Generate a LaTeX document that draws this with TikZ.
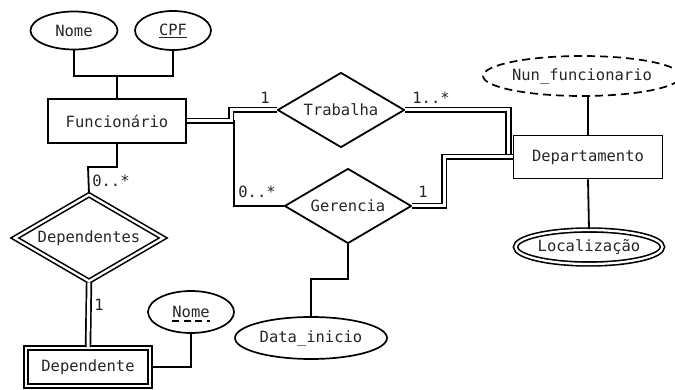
\documentclass[tikz,border=0pt]{standalone}
\usepackage{fontspec}
\setmonofont{DejaVu Sans Mono}
\usetikzlibrary{shapes.geometric}
\begin{document}
\begin{tikzpicture}[x=1pt,y=-1pt,
  every node/.style={font=\ttfamily\fontsize{15.5}{18}\selectfont, inner sep=0pt, text=black!85},
  ent/.style={draw, rectangle, line width=1.8pt},
  attr/.style={draw, ellipse, line width=1.7pt},
  rel/.style={draw, diamond, line width=1.8pt, aspect=1.7},
  conn/.style={line width=1.8pt},
  dbl/.style={double, double distance=3pt, line width=1.7pt},
  dblb/.style={double, double distance=2.3pt, line width=1.6pt},
  wkey/.style={line width=1.4pt, dash pattern=on 7pt off 4.5pt},
  lab/.style={}
]
\useasboundingbox (0,0) rectangle (675,390);
% entities
\node[ent, minimum width=138pt, minimum height=44pt] (func) at (117,121) {Funcionário};
\node[ent, minimum width=149pt, minimum height=43pt] (dep) at (588,157) {Departamento};
\node[ent, dblb, minimum width=124pt, minimum height=38pt] (dpt) at (88,367) {Dependente};
% attributes
\node[attr, minimum width=87pt, minimum height=38pt] (nome) at (74,30.5) {Nome};
\node[attr, minimum width=76pt, minimum height=39pt] (cpf) at (173,30.5) {\underline{CPF}};
\node[attr, dash pattern=on 8pt off 5pt, minimum width=176pt, minimum height=40pt] (nun) at (582,76) {Nun\textunderscore funcionario};
\node[attr, dblb, minimum width=147pt, minimum height=34pt] (loc) at (589,247) {Localização};
\node[attr, minimum width=152pt, minimum height=42pt] (data) at (311,338) {Data\textunderscore inicio};
\node[attr, minimum width=86pt, minimum height=42pt] (nome2) at (191,312) {Nome};
\draw[wkey] ([xshift=-18.7pt,yshift=-3.5pt]nome2.base) -- ([xshift=18.7pt,yshift=-3.5pt]nome2.base);
% relationships
\node[rel, minimum width=127pt, minimum height=75pt] (trab) at (341,110) {Trabalha};
\node[rel, minimum width=127pt, minimum height=75pt] (ger) at (348,206) {Gerencia};
\node[rel, dblb, minimum width=149pt, minimum height=87pt] (dpts) at (89,238) {Dependentes};
% junction coordinates
\coordinate (j1) at (117,76);
\coordinate (ft) at (231,121);
\coordinate (fg) at (234,206);
\coordinate (td) at (508.5,110);
\coordinate (gd) at (444,206);
\coordinate (fd) at (88,167);
\coordinate (gdi) at (311,279);
% connectors
\draw[conn] (nome.south) |- (j1) -| (cpf.south);
\draw[conn] (j1) -- (func.north);
\draw[conn] (func.east) -| (fg) -- (ger.west);
\draw[dbl] (func.east) -- (ft) |- (trab.west);
\draw[dbl] (trab.east) -- (td) |- (dep.west);
\draw[dbl] (ger.east) -- (gd) |- (dep.west);
\draw[conn] (dep.north) -- (dep.north |- nun.south);
\draw[conn] (dep.south) -- (loc.north);
\draw[conn] (func.south) |- (fd) -- (dpts.north);
\draw[dbl] (dpts.south) -- (dpt.north);
\draw[conn] (nome2.south) |- (dpt.east);
\draw[conn] (ger.south) |- (gdi) -- (data.north);
% labels
\node[lab] (l1) at (265,98) {1};
\node[lab] (l2) at (431,98) {1..*};
\node[lab] (l3) at (257,192) {0..*};
\node[lab] (l4) at (423,192) {1};
\node[lab] (l5) at (111,181) {0..*};
\node[lab] (l6) at (99,305) {1};
\end{tikzpicture}
\end{document}
